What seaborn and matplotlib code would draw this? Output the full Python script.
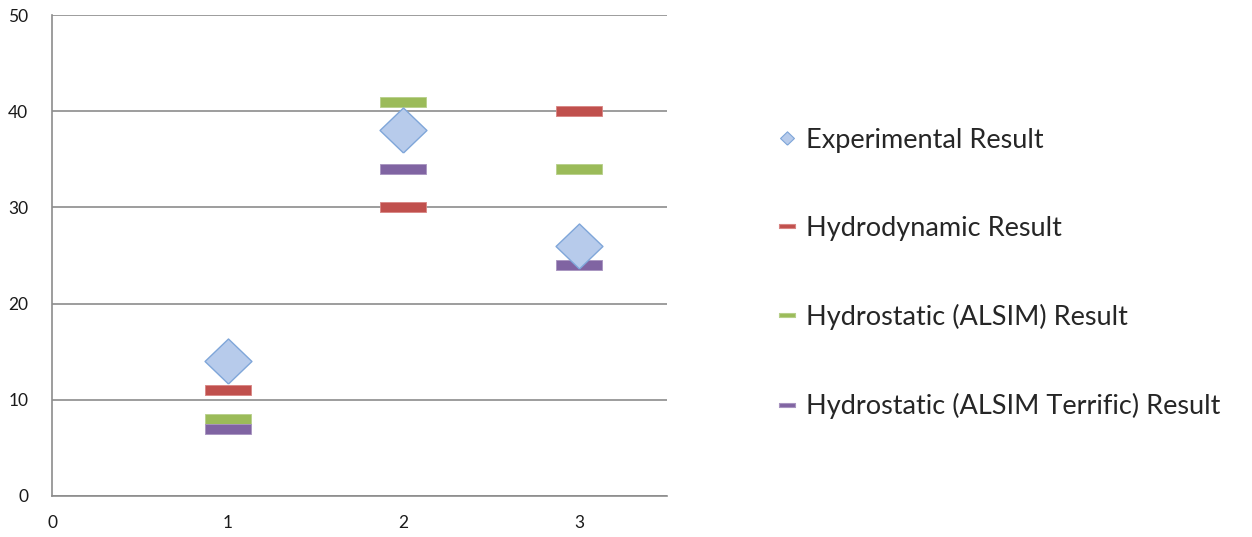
import matplotlib
matplotlib.use("Agg")
import matplotlib.pyplot as plt
from matplotlib.lines import Line2D
import numpy as np
import pandas as pd
import seaborn as sns

# Data
x_cases = [1, 2, 3]
experimental = [14, 38, 26]
hydrodynamic = [11, 30, 40]
hydrostatic_alsim = [8, 41, 34]
hydrostatic_terrific = [7, 34, 24]

series_names = [
    "Experimental Result",
    "Hydrodynamic Result",
    "Hydrostatic (ALSIM) Result",
    "Hydrostatic (ALSIM Terrific) Result",
]
series_values = [experimental, hydrodynamic, hydrostatic_alsim, hydrostatic_terrific]

df = pd.DataFrame({
    "case": np.tile(x_cases, len(series_names)),
    "value": np.concatenate(series_values),
    "series": np.repeat(series_names, len(x_cases)),
})

sns.set_theme(style="white")
plt.rcParams["font.family"] = ["Lato", "DejaVu Sans"]

# Marker shapes: diamond and flat bar
diamond = [(0, -0.96), (1, 0), (0, 0.96), (-1, 0), (0, -0.96)]
bar = [(-2.35, -0.5), (2.35, -0.5), (2.35, 0.5), (-2.35, 0.5), (-2.35, -0.5)]

styles = {
    "Experimental Result": dict(marker=diamond, face="#b7cbeb", edge="#7fa6d9", lw=1.0, s=1140),
    "Hydrodynamic Result": dict(marker=bar, face="#c0504d", edge="#d88583", lw=0.6, s=1140),
    "Hydrostatic (ALSIM) Result": dict(marker=bar, face="#9bbb59", edge="#b7cf8a", lw=0.6, s=1140),
    "Hydrostatic (ALSIM Terrific) Result": dict(marker=bar, face="#8064a2", edge="#a894c0", lw=0.6, s=1140),
}

fig = plt.figure(figsize=(12.52, 5.37), dpi=100)
ax = fig.add_axes([52 / 1252, 41 / 537, 615 / 1252, 481 / 537])

# Draw order: bars first, diamonds on top
for name in series_names[1:] + series_names[:1]:
    st = styles[name]
    sub = df[df["series"] == name]
    sns.scatterplot(data=sub, x="case", y="value", ax=ax, marker=st["marker"],
                    s=st["s"], color=st["face"], edgecolor=st["edge"],
                    linewidth=st["lw"], legend=False, zorder=3)

ax.set_xlim(0, 3.5)
ax.set_ylim(0, 50)
ax.set_xticks([0, 1, 2, 3])
ax.set_yticks([0, 10, 20, 30, 40, 50])
ax.set_xlabel("")
ax.set_ylabel("")
ax.grid(axis="y", color="#8c8c8c", linewidth=1.2)
ax.grid(axis="x", visible=False)
ax.set_axisbelow(True)
for side in ("top", "right"):
    ax.spines[side].set_visible(False)
for side in ("left", "bottom"):
    ax.spines[side].set_color("#8c8c8c")
    ax.spines[side].set_linewidth(1.2)
ax.tick_params(axis="both", direction="out", length=5, width=1.2, color="#8c8c8c",
               labelsize=12.5, labelcolor="#1a1a1a")
ax.tick_params(axis="x", pad=9)
ax.tick_params(axis="y", pad=12)

# Legend
handles = []
for name in series_names:
    st = styles[name]
    ms = 10 if st["marker"] is diamond else 11
    handles.append(Line2D([], [], linestyle="none", marker=st["marker"], markersize=ms,
                          markerfacecolor=st["face"], markeredgecolor=st["edge"],
                          markeredgewidth=0.8))
fig.legend(handles, series_names, loc="center left", bbox_to_anchor=(0.622, 0.491),
           frameon=False, fontsize=19.5, labelspacing=2.33, handlelength=0.6,
           handletextpad=0.42, borderaxespad=0, borderpad=0)

fig.savefig("out.png", dpi=100, facecolor="white")
